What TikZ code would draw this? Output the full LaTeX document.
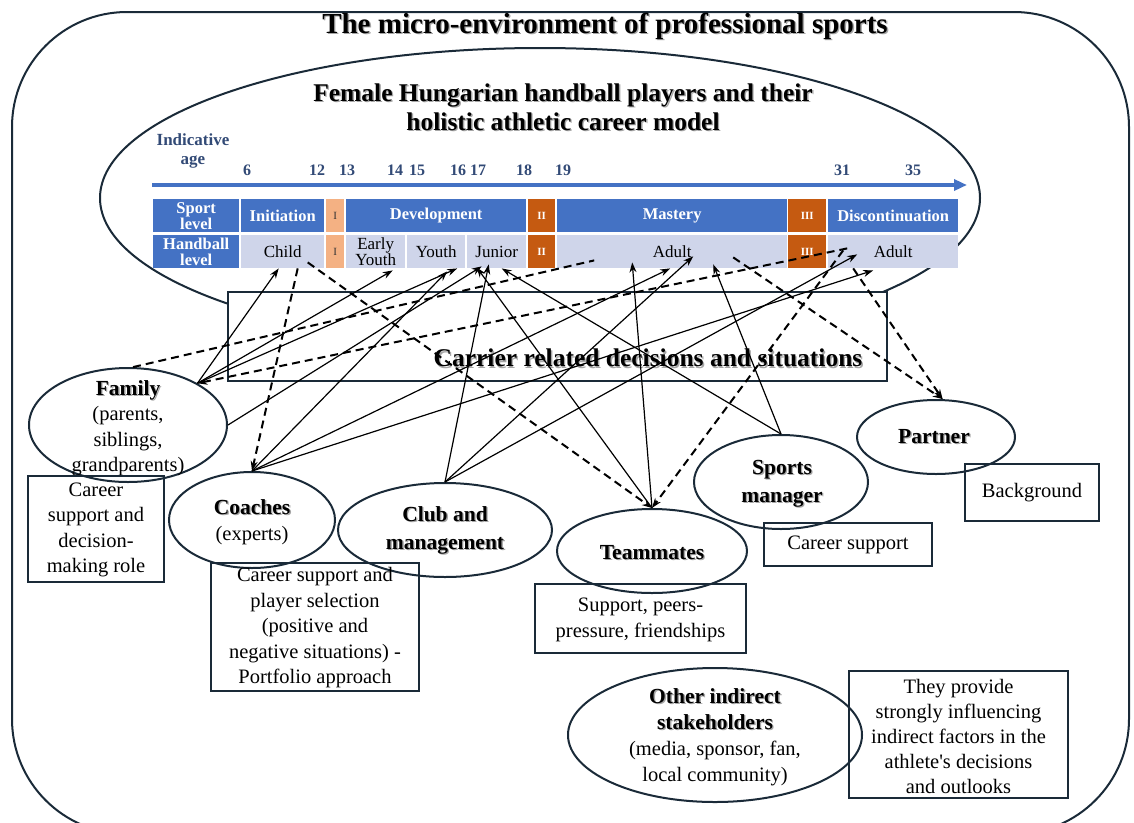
\documentclass[tikz,border=0pt]{standalone}
\usepackage{fontspec}
\setmainfont{Liberation Serif}
\newfontfamily\plainquote[Ligatures=TeXOff]{Liberation Serif}
\usetikzlibrary{arrows.meta,shapes.geometric}

\definecolor{edge}{RGB}{26,42,56}
\definecolor{stageblue}{RGB}{68,114,196}
\definecolor{stagepale}{RGB}{207,213,234}
\definecolor{gatelight}{RGB}{244,177,131}
\definecolor{gatedark}{RGB}{197,90,17}
\definecolor{agecol}{RGB}{50,74,118}

% bold heading text with a soft grey drop shadow
\newcommand\shadowed[1]{\leavevmode\rlap{\kern1.4pt\raisebox{-1.4pt}{\textcolor{black!35}{#1}}}#1}
\newcommand\boldname[1]{{\bfseries\fontsize{21.5}{26}\selectfont\shadowed{#1}}}

\begin{document}
\begin{tikzpicture}[x=1pt,y=-1pt,
  outline/.style={draw=edge,line width=2pt},
  party/.style={ellipse,outline,inner sep=0pt},
  notebox/.style={outline,inner sep=0pt},
  nametext/.style={align=center,font=\fontsize{20.5}{25.5}\selectfont},
  stagecell/.style={anchor=north west,inner sep=0pt,minimum height=33pt,fill=stageblue,
    text=white,align=center,font=\bfseries\fontsize{16.5}{16}\selectfont},
  palecell/.style={stagecell,fill=stagepale,text=black,font=\fontsize{17}{16}\selectfont},
  gatecell/.style={stagecell,fill=gatedark,font=\bfseries\fontsize{11}{12}\selectfont},
  softgate/.style={stagecell,fill=gatelight,text=black!80,font=\fontsize{11}{12}\selectfont},
  agelabel/.style={text=agecol,font=\bfseries\fontsize{16}{18}\selectfont},
  tip/.style={-{Stealth[length=10pt,width=7pt]}},
  link/.style={line width=1.2pt,tip},
  dlink/.style={line width=2pt,dash pattern=on 8pt off 5pt},
]
\path[use as bounding box] (0,0) rectangle (1134,822);

% surrounding micro-environment
\draw[outline,rounded corners=115pt] (12,12) rectangle (1129,834);
\node[font=\bfseries\fontsize{29}{33}\selectfont] (envtitle) at (605,27)
  {\shadowed{The micro-environment of professional sports}};

% career model
\node[party,minimum width=880pt,minimum height=300pt] (model) at (540,198) {};
\node[align=center,font=\bfseries\fontsize{25.5}{29}\selectfont] (modeltitle) at (563,108)
  {\shadowed{Female Hungarian handball players and their}\\\shadowed{holistic athletic career model}};

\node[align=center,text=agecol,font=\bfseries\fontsize{17}{19}\selectfont] (agehead) at (193,151) {Indicative\\age};
\foreach \a/\x in {6/247,12/317,13/347,14/395,15/417,16/458,17/478,18/524,19/563,31/842,35/913}
  \node[agelabel] (age\a) at (\x,170) {\a};

\coordinate (tl0) at (152,185);
\coordinate (tl1) at (967,185);
\draw[stageblue,line width=3.6pt,-{Triangle[length=13pt,width=11pt]}] (tl0) -- (tl1);

% sport level row
\node[stagecell,minimum width=86pt] (sport) at (153,199) {Sport\\level};
\node[stagecell,minimum width=83pt] (init) at (241,199) {Initiation};
\node[softgate,minimum width=18pt] (g1) at (326,199) {I};
\node[stagecell,minimum width=180pt] (dev) at (346,199) {Development};
\node[gatecell,minimum width=27pt] (g2) at (528,199) {II};
\node[stagecell,minimum width=230pt] (mast) at (557,199) {Mastery};
\node[gatecell,minimum width=38pt] (g3) at (788,199) {III};
\node[stagecell,minimum width=130pt] (disc) at (828,199) {Discontinuation};

% handball level row
\node[stagecell,minimum width=86pt] (hand) at (153,235) {Handball\\level};
\node[palecell,minimum width=83pt] (child) at (241,235) {Child};
\node[softgate,minimum width=18pt] (g1b) at (326,235) {I};
\node[palecell,minimum width=59pt] (ey) at (346,235) {Early\\Youth};
\node[palecell,minimum width=58pt] (youth) at (407,235) {Youth};
\node[palecell,minimum width=59pt] (junior) at (467,235) {Junior};
\node[gatecell,minimum width=27pt] (g2b) at (528,235) {II};
\node[palecell,minimum width=230pt] (adult1) at (557,235) {Adult};
\node[gatecell,minimum width=38pt] (g3b) at (788,235) {III};
\node[palecell,minimum width=130pt] (adult2) at (828,235) {Adult};

% decisions band
\node[outline,fill=white,minimum width=659pt,minimum height=89pt,inner sep=0pt] (decisions) at (557.5,336.5) {};
\node[font=\bfseries\fontsize{25.5}{30}\selectfont] (decisionstext) at (648,359)
  {\shadowed{Carrier related decisions and situations}};

% stakeholders
\node[party,minimum width=198pt,minimum height=114pt] (fam) at (128,425) {};
\node[nametext] (famtext) at (128,428)
  {\boldname{Family}\\(parents,\\siblings,\\grandparents)};
\node[party,minimum width=166pt,minimum height=96pt] (coach) at (252,520) {};
\node[nametext] (coachtext) at (252,522)
  {\boldname{Coaches}\\(experts)};
\node[party,minimum width=214pt,minimum height=94pt] (club) at (445,530) {};
\node[nametext,font=\bfseries\fontsize{21.5}{28}\selectfont] (clubtext) at (445,531)
  {\shadowed{Club and}\\\shadowed{management}};
\node[party,minimum width=190pt,minimum height=84pt] (team) at (652,551) {};
\node[nametext,font=\bfseries\fontsize{21.5}{28}\selectfont] (teamtext) at (652,553) {\shadowed{Teammates}};
\node[party,minimum width=174pt,minimum height=94pt] (spm) at (781,482) {};
\node[nametext,font=\bfseries\fontsize{21.5}{28}\selectfont] (spmtext) at (782,484)
  {\shadowed{Sports}\\\shadowed{manager}};
\node[party,minimum width=158pt,minimum height=74pt] (partner) at (936,437) {};
\node[nametext,font=\bfseries\fontsize{21.5}{28}\selectfont] (partnertext) at (934,437) {\shadowed{Partner}};
\node[party,minimum width=294pt,minimum height=134pt] (other) at (715,735) {};
\node[nametext,font=\fontsize{20.5}{26}\selectfont] (othertext) at (715,737)
  {\boldname{Other indirect}\\\boldname{stakeholders}\\(media, sponsor, fan,\\local community)};

% role notes
\node[notebox,minimum width=136pt,minimum height=106pt] (famnote) at (96,529) {};
\node[nametext] (famnotetext) at (96,530) {Career\\support and\\decision-\\making role};
\node[notebox,minimum width=208pt,minimum height=128pt] (coachnote) at (315,627) {};
\node[nametext] (coachnotetext) at (315,628)
  {Career support and\\player selection\\(positive and\\negative situations) -\\Portfolio approach};
\node[notebox,minimum width=211pt,minimum height=69pt] (teamnote) at (640.5,618.5) {};
\node[nametext] (teamnotetext) at (640.5,620) {Support, peers-\\pressure, friendships};
\node[notebox,minimum width=168pt,minimum height=43pt] (spmnote) at (848,544.5) {};
\node[nametext] (spmnotetext) at (848,545) {Career support};
\node[notebox,minimum width=134pt,minimum height=57pt] (partnote) at (1032,492.5) {};
\node[nametext] (partnotetext) at (1032,493) {Background};
\node[notebox,minimum width=219pt,minimum height=127pt] (othernote) at (958.5,734.5) {};
\node[nametext,font=\fontsize{20.5}{25}\selectfont] (othernotetext) at (958.5,736)
  {They provide\\strongly influencing\\indirect factors in the\\athlete{\plainquote'}s decisions\\and outlooks};

% direct influences on the career stages
\draw[link] (fam.31) -- ([xshift=-4pt]child.south);
\draw[link] (fam.31) -- ([xshift=17pt,yshift=-2pt]ey.south);
\draw[link] (fam.31) -- ([xshift=21pt]youth.south);
\draw[link] (fam.east) -- ([xshift=-15pt,yshift=2pt]junior.south);
\draw[link] (coach.north) -- ([xshift=11pt,yshift=-3pt]youth.south);
\draw[link] (coach.north) -- ([xshift=-2pt]adult1.south);
\draw[link] (coach.north) -- ([xshift=-20pt,yshift=-2pt]adult2.south);
\draw[link] (club.north) -- ([xshift=-8pt,yshift=4pt]junior.south);
\draw[link] (club.north) -- ([xshift=21pt,yshift=12pt]adult1.south);
\draw[link] (club.north) -- ([xshift=-36pt,yshift=14pt]adult2.south);
\draw[link] (team.north) -- ([xshift=-40pt,yshift=6pt]adult1.south);
\draw[link] (team.north) -- ([xshift=-20pt,yshift=1pt]junior.south);
\draw[link] (spm.north) -- ([xshift=5pt]junior.south);
\draw[link] (spm.north) -- ([xshift=41pt,yshift=4pt]adult1.south);

% indirect influences
\draw[dlink] (fam.85) -- ([xshift=-78pt,yshift=8pt]adult1.south);
\draw[dlink,tip] ([xshift=-46pt,yshift=20pt]adult2.south) -- (fam.31);
\draw[dlink,tip] ([xshift=15pt]child.south) -- (coach.north);
\draw[dlink,tip] ([xshift=25pt,yshift=6pt]child.south) -- (team.north);
\draw[dlink,tip] ([xshift=-50pt,yshift=18pt]adult2.south) -- (team.north);
\draw[dlink,tip] ([xshift=61pt,yshift=11pt]adult1.south) -- (partner.80);
\draw[dlink,tip] ([xshift=-40pt]adult2.south) -- (partner.80);
\end{tikzpicture}
\end{document}
